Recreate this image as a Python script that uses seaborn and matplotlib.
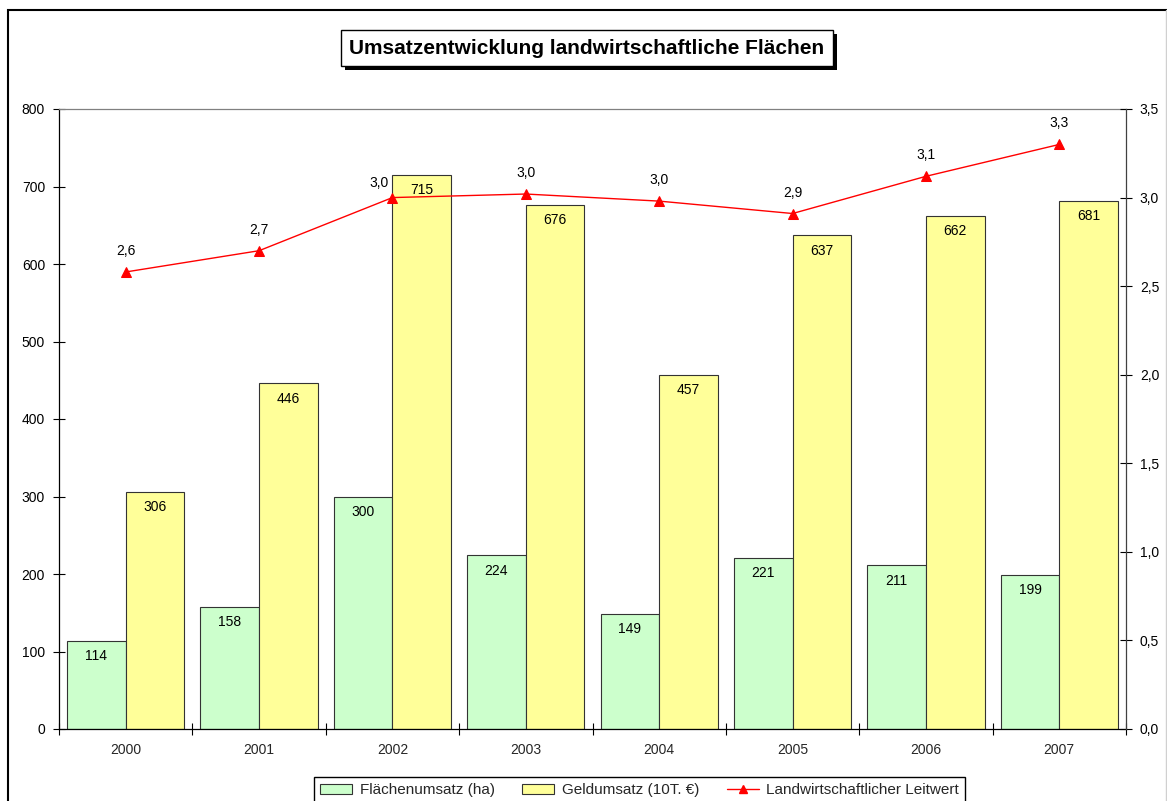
import numpy as np
import pandas as pd
import matplotlib
matplotlib.use("Agg")
import matplotlib.pyplot as plt
from matplotlib.patches import Patch, Rectangle
from matplotlib.lines import Line2D
from matplotlib.ticker import FixedLocator, FuncFormatter
import seaborn as sns

# --- data ---------------------------------------------------------------
years = ["2000", "2001", "2002", "2003", "2004", "2005", "2006", "2007"]
flaechenumsatz = [114, 158, 300, 224, 149, 221, 211, 199]          # ha
geldumsatz = [306, 446, 715, 676, 457, 637, 662, 681]              # 10T. €
leitwert = [2.58, 2.70, 3.00, 3.02, 2.98, 2.91, 3.12, 3.30]

series_names = ["Flächenumsatz (ha)", "Geldumsatz (10T. €)"]
line_name = "Landwirtschaftlicher Leitwert"
title = "Umsatzentwicklung landwirtschaftliche Flächen"

green = "#CCFFCC"
yellow = "#FFFF99"
edge = "#333333"

# --- style --------------------------------------------------------------
sns.set_theme(style="white")
plt.rcParams["font.family"] = ["Liberation Sans", "DejaVu Sans"]
plt.rcParams["axes.unicode_minus"] = False

df = pd.DataFrame({
    "Jahr": years * 2,
    "Wert": flaechenumsatz + geldumsatz,
    "Reihe": [series_names[0]] * len(years) + [series_names[1]] * len(years),
})

W, H = 1167, 801
fig = plt.figure(figsize=(W / 100, H / 100), dpi=100)
fig.patch.set_facecolor("white")
ax = fig.add_axes([59 / W, 1 - 729 / H, (1126 - 59) / W, (729 - 109) / H])

sns.barplot(data=df, x="Jahr", y="Wert", hue="Reihe", order=years,
            hue_order=series_names, palette=[green, yellow], saturation=1,
            width=0.88, gap=0, edgecolor=edge, linewidth=0.8,
            legend=False, ax=ax, zorder=2)

for cont in ax.containers:
    ax.bar_label(cont, fmt="%d", padding=-16, fontsize=10, color="black")

ax.set_xlim(-0.5, len(years) - 0.5)
ax.set_ylim(0, 800)
ax.set_yticks(np.arange(0, 801, 100))
ax.set_xlabel("")
ax.set_ylabel("")
ax.tick_params(axis="y", direction="inout", length=8, width=0.8,
               labelsize=10, colors="black", pad=6, left=True)
ax.tick_params(axis="x", which="major", length=0, labelsize=10, pad=10)
ax.xaxis.set_minor_locator(FixedLocator(np.arange(-0.5, len(years), 1.0)))
ax.tick_params(axis="x", which="minor", direction="inout", length=8,
               width=0.8, color="black", bottom=True)

for side in ["left", "bottom"]:
    ax.spines[side].set_color("black")
    ax.spines[side].set_linewidth(0.9)
ax.spines["top"].set_color("#808080")
ax.spines["top"].set_linewidth(0.9)
ax.spines["right"].set_visible(False)

# --- secondary axis: line ---------------------------------------------
ax2 = ax.twinx()
xpos = np.arange(len(years))
sns.lineplot(x=xpos, y=leitwert, ax=ax2, color="red", linewidth=1,
             marker="^", markersize=7, markeredgecolor="red", zorder=4)
ax2.set_ylim(0, 3.5)
ax2.set_yticks(np.arange(0, 3.51, 0.5))
ax2.yaxis.set_major_formatter(FuncFormatter(lambda v, p: f"{v:.1f}".replace(".", ",")))
ax2.tick_params(axis="y", direction="inout", length=8, width=0.8,
                labelsize=10, colors="black", pad=6, right=True)
ax2.set_ylabel("")
for side in ["left", "bottom", "top"]:
    ax2.spines[side].set_visible(False)
ax2.spines["right"].set_color("#404040")
ax2.spines["right"].set_linewidth(0.9)

offsets = [(0, 21)] * len(years)
offsets[2] = (-13, 15)
for x, v, off in zip(xpos, leitwert, offsets):
    ax2.annotate(f"{v:.1f}".replace(".", ","), (x, v), xytext=off,
                 textcoords="offset pixels", ha="center", va="center",
                 fontsize=10, color="black")

# --- title box with drop shadow ----------------------------------------
ttl = fig.text(0.503, 1 - 48 / H, title, ha="center", va="center",
               fontsize=15, fontweight="bold", color="black",
               bbox=dict(boxstyle="square,pad=0.4", fc="white", ec="black", lw=1),
               zorder=6)
fig.canvas.draw()
bb = ttl.get_bbox_patch().get_window_extent()
fig.add_artist(Rectangle(((bb.x0 + 4) / W, (bb.y0 - 4) / H), bb.width / W,
                         bb.height / H, transform=fig.transFigure,
                         fc="black", ec="black", lw=0, zorder=5))

# --- legend -------------------------------------------------------------
handles = [
    Patch(facecolor=green, edgecolor=edge, linewidth=0.8, label=series_names[0]),
    Patch(facecolor=yellow, edgecolor=edge, linewidth=0.8, label=series_names[1]),
    Line2D([0], [0], color="red", lw=1, marker="^", markersize=6, label=line_name),
]
leg = fig.legend(handles=handles, loc="upper center",
                 bbox_to_anchor=(0.548, 1 - 777 / H), ncol=3, fontsize=11,
                 frameon=True, fancybox=False, edgecolor="black",
                 framealpha=1, borderpad=0.4, borderaxespad=0,
                 handlelength=2.1, handleheight=0.6, columnspacing=1.8,
                 handletextpad=0.5)
leg.get_frame().set_linewidth(1)

# --- outer chart frame --------------------------------------------------
fig.add_artist(Rectangle((8 / W, -0.1), 1.2, 1 - 10 / H + 0.1,
                         transform=fig.transFigure, fill=False,
                         ec="black", lw=1.5, zorder=0))
fig.add_artist(Line2D([1166 / W, 1166 / W], [0, 1 - 10 / H],
                      transform=fig.transFigure, color="#d0d0d0", lw=1))

fig.savefig("out.png", dpi=100, facecolor="white")
